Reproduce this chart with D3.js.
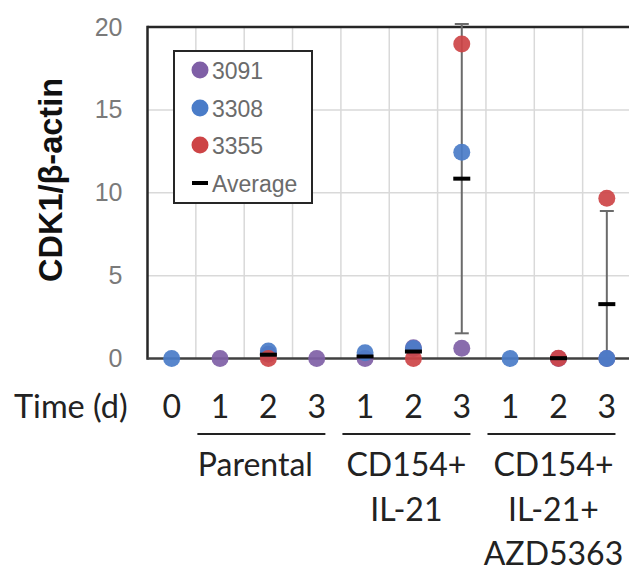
<!DOCTYPE html>
<html>
<head>
<meta charset="utf-8">
<script src="https://cdn.jsdelivr.net/npm/d3@7"></script>
<style>
  html, body { margin: 0; padding: 0; background: #fff; }
  svg { display: block; }
</style>
</head>
<body>
<svg id="chart" width="629" height="571"></svg>
<script>
// ---- data ----
const timeLabels = ["0", "1", "2", "3", "1", "2", "3", "1", "2", "3"];
const seriesNames = ["3091", "3308", "3355"];
const s3091 = [null, 0, 0.25, 0, 0, 0.65, 0.62, null, 0, 0];
const s3308 = [0, null, 0.45, null, 0.35, 0.6, 12.45, 0, null, 0];
const s3355 = [null, null, 0, null, null, 0, 18.97, null, 0.02, 9.67];
const averages = [null, null, 0.23, null, 0.12, 0.42, 10.85, null, 0.02, 3.28];
const errors = [null, null, null, null, null, null, 9.33, null, null, 5.62];
const groupNames = [["Parental"], ["CD154+", "IL-21"], ["CD154+", "IL-21+", "AZD5363"]];
const groupStart = [1, 4, 7];
const groupEnd = [3, 6, 9];
const yTicks = [0, 5, 10, 15, 20];
const yLabel = "CDK1/\u03B2-actin";
const xTitle = "Time (d)";
const legendAvg = "Average";

// ---- styles ----
const colors = ["#7F5FA6", "#4A7CC8", "#CD4446"];
const W = 629, H = 571;
const pLeft = 147.5, pRight = 631, pTop = 27, pBottom = 358.5;

const svg = d3.select("#chart");
const x = d3.scaleBand().domain(d3.range(timeLabels.length)).range([pLeft, pRight]).padding(0);
const y = d3.scaleLinear().domain([0, 20]).range([pBottom, pTop]);
const cx = i => x(i) + x.bandwidth() / 2;

// gridlines
const grid = svg.append("g");
grid.selectAll("line.h").data(yTicks.filter(t => t > 0 && t < 20)).join("line")
  .attr("x1", pLeft).attr("x2", W).attr("y1", d => y(d)).attr("y2", d => y(d))
  .attr("stroke", "#d9d9d9").attr("stroke-width", 1.5);
grid.selectAll("line.v").data(d3.range(1, timeLabels.length)).join("line")
  .attr("x1", d => x(d)).attr("x2", d => x(d)).attr("y1", pTop).attr("y2", pBottom)
  .attr("stroke", "#d9d9d9").attr("stroke-width", 1.5);

// frame
svg.append("line").attr("x1", pLeft).attr("x2", W).attr("y1", pTop).attr("y2", pTop)
  .attr("stroke", "#262626").attr("stroke-width", 2.5);
svg.append("line").attr("x1", pLeft).attr("x2", pLeft).attr("y1", pTop - 1.2).attr("y2", pBottom + 1.2)
  .attr("stroke", "#262626").attr("stroke-width", 2.5);
svg.append("line").attr("x1", pLeft).attr("x2", W).attr("y1", pBottom).attr("y2", pBottom)
  .attr("stroke", "#404040").attr("stroke-width", 2.5);

// y axis
const yAxis = svg.append("g").attr("transform", `translate(${pLeft},0)`)
  .call(d3.axisLeft(y).tickValues(yTicks).tickSize(0).tickPadding(25));
yAxis.select(".domain").remove();
yAxis.selectAll("text").attr("font-family", "Liberation Sans, Arial, sans-serif")
  .attr("font-size", 25).attr("fill", "#7a7a7a");

// y label
svg.append("text").attr("transform", "translate(62,180) rotate(-90)")
  .attr("text-anchor", "middle").attr("font-family", "Liberation Sans, Arial, sans-serif")
  .attr("font-weight", "bold").attr("font-size", 32.5).attr("fill", "#111").text(yLabel);

// error bars
const eb = svg.append("g");
errors.forEach((e, i) => {
  if (e == null || averages[i] == null) return;
  const hi = averages[i] + e, lo = averages[i] - e;
  const loC = Math.max(0, lo);
  eb.append("line").attr("x1", cx(i)).attr("x2", cx(i)).attr("y1", y(hi)).attr("y2", y(loC))
    .attr("stroke", "#6b6b6b").attr("stroke-width", 2);
  eb.append("line").attr("x1", cx(i) - 7).attr("x2", cx(i) + 7).attr("y1", y(hi)).attr("y2", y(hi))
    .attr("stroke", "#6b6b6b").attr("stroke-width", 2);
  if (lo >= 0) {
    eb.append("line").attr("x1", cx(i) - 7).attr("x2", cx(i) + 7).attr("y1", y(lo)).attr("y2", y(lo))
      .attr("stroke", "#6b6b6b").attr("stroke-width", 2);
  }
});

// dots
const allSeries = [s3091, s3308, s3355];
allSeries.forEach((s, k) => {
  svg.append("g").selectAll("circle")
    .data(s.map((v, i) => ({ v, i })).filter(d => d.v != null))
    .join("circle")
    .attr("cx", d => cx(d.i)).attr("cy", d => y(d.v)).attr("r", 8.5)
    .attr("fill", colors[k]).attr("fill-opacity", 0.92);
});

// averages
svg.append("g").selectAll("line")
  .data(averages.map((v, i) => ({ v, i })).filter(d => d.v != null))
  .join("line")
  .attr("x1", d => cx(d.i) - 8.5).attr("x2", d => cx(d.i) + 8.5)
  .attr("y1", d => y(d.v)).attr("y2", d => y(d.v))
  .attr("stroke", "#000").attr("stroke-width", 4);

// legend
const lg = svg.append("g");
lg.append("rect").attr("x", 174).attr("y", 51).attr("width", 138).attr("height", 152)
  .attr("fill", "#fff").attr("stroke", "#262626").attr("stroke-width", 2);
const legendY = [70, 108, 145];
seriesNames.forEach((n, k) => {
  lg.append("circle").attr("cx", 200).attr("cy", legendY[k]).attr("r", 8.5).attr("fill", colors[k]);
  lg.append("text").attr("x", 212).attr("y", legendY[k] + 8.5)
    .attr("font-family", "Liberation Sans, Arial, sans-serif").attr("font-size", 23)
    .attr("fill", "#6b6b6b").text(n);
});
lg.append("line").attr("x1", 192).attr("x2", 208).attr("y1", 183).attr("y2", 183)
  .attr("stroke", "#000").attr("stroke-width", 4);
lg.append("text").attr("x", 212).attr("y", 191.5)
  .attr("font-family", "Liberation Sans, Arial, sans-serif").attr("font-size", 23)
  .attr("fill", "#6b6b6b").text(legendAvg);

// x axis (time labels)
const labelFont = "Lato, 'Open Sans', sans-serif";
const xAxis = svg.append("g").attr("transform", `translate(0,${pBottom})`)
  .call(d3.axisBottom(x).tickFormat(i => timeLabels[i]).tickSize(0));
xAxis.select(".domain").remove();
xAxis.selectAll("text").attr("y", 418 - pBottom).attr("dy", 0)
  .attr("font-family", labelFont).attr("font-size", 32).attr("fill", "#222");

svg.append("text").attr("x", 14).attr("y", 418)
  .attr("font-family", labelFont).attr("font-size", 32.5).attr("fill", "#222").text(xTitle);

// groups
const textShift = [-13, -7, -5];
groupNames.forEach((lines, g) => {
  const mid = (cx(groupStart[g]) + cx(groupEnd[g])) / 2;
  svg.append("line").attr("x1", mid - 71).attr("x2", mid + 57).attr("y1", 434).attr("y2", 434)
    .attr("stroke", "#222").attr("stroke-width", 2);
  lines.forEach((t, j) => {
    svg.append("text").attr("x", mid + textShift[g]).attr("y", 476 + j * 44.5).attr("text-anchor", "middle")
      .attr("font-family", labelFont).attr("font-size", 32).attr("fill", "#222").text(t);
  });
});
</script>
</body>
</html>
